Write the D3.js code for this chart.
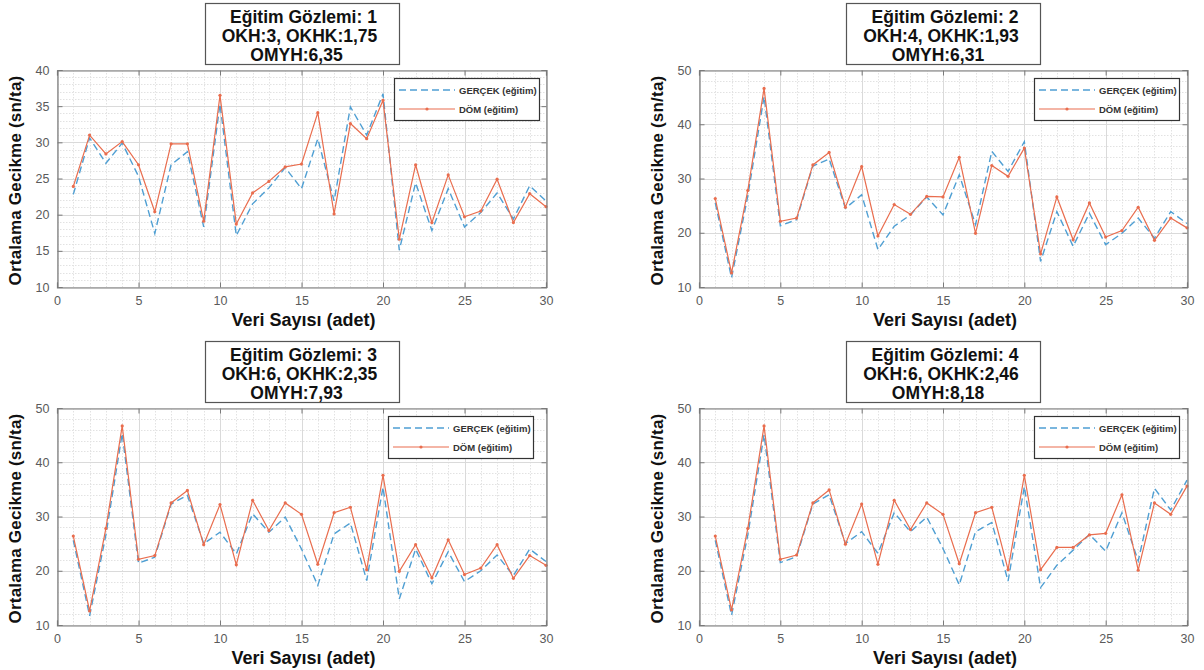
<!DOCTYPE html>
<html>
<head>
<meta charset="utf-8">
<script src="https://cdn.jsdelivr.net/npm/d3@7/dist/d3.min.js"></script>
<style>
body { margin: 0; background: #ffffff; }
text { font-family: "Liberation Sans", Arial, Helvetica, sans-serif; }
</style>
</head>
<body>
<div id="view"></div>
<script>
var width = 1204, height = 670;

// x ekseni: veri sayisi
var veriSayisi = [1, 2, 3, 4, 5, 6, 7, 8, 9, 10, 11, 12, 13, 14, 15,
	16, 17, 18, 19, 20, 21, 22, 23, 24, 25, 26, 27, 28, 29, 30];
var xTicks = [0, 5, 10, 15, 20, 25, 30];
var yTicks1 = [10, 15, 20, 25, 30, 35, 40];
var yTicks2 = [10, 20, 30, 40, 50];

// Egitim gozlemi 1
var gercek1 = [22.8, 30.6, 27.1, 29.9, 25.3, 17.4, 26.9, 28.7, 18.3, 35.3,
	17.1, 21.5, 23.7, 26.5, 23.6, 30.5, 21.9, 34.9, 31.0, 36.7,
	15.1, 24.4, 17.8, 23.6, 18.3, 20.3, 23.0, 19.4, 24.0, 21.9];
var dom1 = [23.9, 31.0, 28.4, 30.1, 26.9, 20.4, 29.8, 29.8, 19.1, 36.5,
	18.7, 23.0, 24.6, 26.6, 27.0, 34.1, 20.1, 32.6, 30.5, 35.8,
	16.6, 26.9, 18.9, 25.5, 19.7, 20.5, 24.9, 18.9, 22.9, 21.1];

// Egitim gozlemi 2
var gercek2 = [25.5, 11.7, 26.8, 45.1, 21.3, 22.4, 32.3, 33.6, 24.5, 27.0,
	16.9, 21.2, 23.3, 26.6, 23.3, 30.7, 21.5, 35.0, 31.3, 36.8,
	14.7, 23.9, 17.5, 23.6, 17.8, 19.9, 22.7, 19.0, 23.9, 21.7];
var dom2 = [26.3, 12.6, 27.8, 46.6, 22.1, 22.7, 32.5, 34.8, 24.7, 32.2,
	19.4, 25.2, 23.4, 26.7, 26.6, 33.9, 19.9, 32.4, 30.4, 35.6,
	16.1, 26.6, 18.7, 25.5, 19.2, 20.4, 24.7, 18.6, 22.7, 20.9];

// Egitim gozlemi 3
var gercek3 = [25.6, 11.7, 26.6, 45.3, 21.4, 22.5, 32.3, 33.9, 25.0, 27.1,
	23.1, 30.5, 27.1, 29.9, 24.0, 17.3, 26.8, 28.8, 18.2, 35.4,
	14.8, 24.0, 17.6, 23.5, 18.0, 20.0, 22.9, 19.1, 24.0, 21.7];
var dom3 = [26.4, 12.6, 27.8, 46.7, 22.1, 22.8, 32.5, 34.8, 24.8, 32.2,
	21.1, 33.0, 27.4, 32.5, 30.4, 21.2, 30.7, 31.7, 20.2, 37.6,
	19.9, 24.8, 18.7, 25.7, 19.3, 20.5, 24.8, 18.6, 22.8, 21.0];

// Egitim gozlemi 4
var gercek4 = [25.6, 11.8, 26.6, 45.1, 21.5, 22.6, 32.3, 34.0, 25.0, 27.2,
	23.2, 30.7, 27.2, 29.9, 24.1, 17.4, 27.2, 28.9, 18.1, 35.5,
	16.9, 21.0, 23.8, 26.7, 23.6, 30.7, 21.8, 35.2, 31.2, 36.7];
var dom4 = [26.4, 12.8, 27.8, 46.7, 22.1, 22.9, 32.5, 34.9, 24.9, 32.3,
	21.2, 33.0, 27.6, 32.5, 30.4, 21.3, 30.7, 31.7, 20.2, 37.6,
	20.2, 24.3, 24.3, 26.6, 26.9, 34.0, 20.1, 32.5, 30.4, 35.6];

var basliklar = [
	["Eğitim Gözlemi: 1", "OKH:3, OKHK:1,75", "OMYH:6,35"],
	["Eğitim Gözlemi: 2", "OKH:4, OKHK:1,93", "OMYH:6,31"],
	["Eğitim Gözlemi: 3", "OKH:6, OKHK:2,35", "OMYH:7,93"],
	["Eğitim Gözlemi: 4", "OKH:6, OKHK:2,46", "OMYH:8,18"]
];
var seriAdlari = ["GERÇEK (eğitim)", "DÖM (eğitim)"];
var xEtiketi = "Veri Sayısı (adet)";
var yEtiketi = "Ortalama Gecikme (sn/ta)";

var renkGercek = "#4f9fd3";
var renkDom = "#e96d4e";

var panels = [
	{ left: 57,  top: 70,  right: 546,  bottom: 287, yDomain: [10, 40], yTicks: yTicks1, yMinor: 30,
	  gercek: gercek1, dom: dom1, title: basliklar[0], legendRight: 7 },
	{ left: 699, top: 70,  right: 1187, bottom: 287, yDomain: [10, 50], yTicks: yTicks2, yMinor: 20,
	  gercek: gercek2, dom: dom2, title: basliklar[1], legendRight: 8 },
	{ left: 57,  top: 408, right: 546,  bottom: 625, yDomain: [10, 50], yTicks: yTicks2, yMinor: 20,
	  gercek: gercek3, dom: dom3, title: basliklar[2], legendRight: 13 },
	{ left: 699, top: 408, right: 1187, bottom: 625, yDomain: [10, 50], yTicks: yTicks2, yMinor: 20,
	  gercek: gercek4, dom: dom4, title: basliklar[3], legendRight: 8 }
];

var svg = d3.select("#view").append("svg")
	.attr("width", width)
	.attr("height", height);

svg.append("rect").attr("width", width).attr("height", height).attr("fill", "#ffffff");

panels.forEach(function(p) { drawPanel(p); });

function drawPanel(p) {
	var x = d3.scaleLinear().domain([0, 30]).range([p.left, p.right]);
	var y = d3.scaleLinear().domain(p.yDomain).range([p.bottom, p.top]);
	var g = svg.append("g");

	// kucuk izgara (noktali)
	g.selectAll(".minx").data(x.ticks(30)).enter().append("line")
		.attr("x1", function(d) { return Math.round(x(d)) + 0.5; })
		.attr("x2", function(d) { return Math.round(x(d)) + 0.5; })
		.attr("y1", p.top).attr("y2", p.bottom)
		.style("stroke", "#e2e2e2").style("stroke-width", 1).style("stroke-dasharray", "1.5,1.5");
	g.selectAll(".miny").data(y.ticks(p.yMinor)).enter().append("line")
		.attr("y1", function(d) { return Math.round(y(d)) + 0.5; })
		.attr("y2", function(d) { return Math.round(y(d)) + 0.5; })
		.attr("x1", p.left).attr("x2", p.right)
		.style("stroke", "#e2e2e2").style("stroke-width", 1).style("stroke-dasharray", "1.5,1.5");

	// ana izgara
	g.selectAll(".majx").data(xTicks).enter().append("line")
		.attr("x1", function(d) { return Math.round(x(d)) + 0.5; })
		.attr("x2", function(d) { return Math.round(x(d)) + 0.5; })
		.attr("y1", p.top).attr("y2", p.bottom)
		.style("stroke", "#dadada").style("stroke-width", 1);
	g.selectAll(".majy").data(p.yTicks).enter().append("line")
		.attr("y1", function(d) { return Math.round(y(d)) + 0.5; })
		.attr("y2", function(d) { return Math.round(y(d)) + 0.5; })
		.attr("x1", p.left).attr("x2", p.right)
		.style("stroke", "#dadada").style("stroke-width", 1);

	// seriler
	var line = d3.line()
		.x(function(d, i) { return x(veriSayisi[i]); })
		.y(function(d) { return y(d); });

	g.append("path").datum(p.gercek)
		.attr("d", line)
		.style("fill", "none").style("stroke", renkGercek)
		.style("stroke-width", 1.4).style("stroke-dasharray", "7,4");

	g.append("path").datum(p.dom)
		.attr("d", line)
		.style("fill", "none").style("stroke", renkDom)
		.style("stroke-width", 1.2);

	g.selectAll(".nokta").data(p.dom).enter().append("circle")
		.attr("cx", function(d, i) { return x(veriSayisi[i]); })
		.attr("cy", function(d) { return y(d); })
		.attr("r", 1.6)
		.style("fill", renkDom);

	// eksenler (MATLAB tarzi: ice dogru tikler, kutu)
	var ax = g.append("g").attr("transform", "translate(0," + (Math.round(p.bottom) + 0.5) + ")")
		.call(d3.axisBottom(x).tickValues(xTicks).tickSize(-5).tickPadding(9).tickFormat(d3.format("d")));
	var axTop = g.append("g").attr("transform", "translate(0," + (Math.round(p.top) + 0.5) + ")")
		.call(d3.axisTop(x).tickValues(xTicks).tickSize(-5).tickFormat(""));
	var ay = g.append("g").attr("transform", "translate(" + (Math.round(p.left) + 0.5) + ",0)")
		.call(d3.axisLeft(y).tickValues(p.yTicks).tickSize(-5).tickPadding(8).tickFormat(d3.format("d")));
	var ayR = g.append("g").attr("transform", "translate(" + (Math.round(p.right) + 0.5) + ",0)")
		.call(d3.axisRight(y).tickValues(p.yTicks).tickSize(-5).tickFormat(""));

	[ax, axTop, ay, ayR].forEach(function(a) {
		a.select(".domain").style("stroke", "#7a7a7a").style("stroke-width", 1.2);
		a.selectAll(".tick line").style("stroke", "#7a7a7a");
		a.selectAll(".tick text").style("fill", "#5a5a5a").style("font-size", "12.5px");
	});

	// eksen basliklari
	g.append("text")
		.attr("x", (p.left + p.right) / 2 + 2)
		.attr("y", p.bottom + 39)
		.attr("text-anchor", "middle")
		.style("font-size", "18px").style("font-weight", "bold").style("fill", "#111")
		.text(xEtiketi);

	g.append("text")
		.attr("transform", "translate(" + (p.left - 36) + "," + ((p.top + p.bottom) / 2 + 2) + ") rotate(-90)")
		.attr("text-anchor", "middle")
		.style("font-size", "17px").style("font-weight", "bold").style("fill", "#111")
		.style("letter-spacing", "0.2px")
		.text(yEtiketi);

	// lejant
	var lw = 145, lh = 42;
	var lx = p.right - p.legendRight - lw, ly = p.top + 8;
	var lg = g.append("g").attr("transform", "translate(" + lx + "," + ly + ")");
	lg.append("rect").attr("x", 0.5).attr("y", 0.5).attr("width", lw).attr("height", lh)
		.style("fill", "#ffffff").style("stroke", "#333333").style("stroke-width", 1.2);
	lg.append("line").attr("x1", 5).attr("x2", 61).attr("y1", 12).attr("y2", 12)
		.style("stroke", renkGercek).style("stroke-width", 1.4).style("stroke-dasharray", "7,4");
	lg.append("line").attr("x1", 5).attr("x2", 61).attr("y1", 31).attr("y2", 31)
		.style("stroke", renkDom).style("stroke-width", 1.2);
	lg.append("circle").attr("cx", 33).attr("cy", 31).attr("r", 1.6).style("fill", renkDom);
	lg.selectAll(".lt").data(seriAdlari).enter().append("text")
		.attr("x", 65)
		.attr("y", function(d, i) { return i == 0 ? 15.5 : 34.5; })
		.style("font-size", "9.5px").style("font-weight", "bold").style("fill", "#333")
		.text(function(d) { return d; });

	// baslik kutusu
	var bw = 194, bh = 61;
	var cx = (p.left + p.right) / 2;
	var bx = cx - bw / 2, by = p.top - 67;
	var satirKaydir = [2, -2, -5];
	g.append("rect").attr("x", Math.round(bx) + 0.5).attr("y", Math.round(by) + 0.5)
		.attr("width", bw).attr("height", bh)
		.style("fill", "#ffffff").style("stroke", "#555555").style("stroke-width", 1.2);
	g.selectAll(".bt").data(p.title).enter().append("text")
		.attr("x", function(d, i) { return cx + satirKaydir[i]; })
		.attr("y", function(d, i) { return by + 20 + i * 19; })
		.attr("text-anchor", "middle")
		.style("font-size", "17.5px").style("font-weight", "bold").style("fill", "#111")
		.text(function(d) { return d; });
}
</script>
</body>
</html>
